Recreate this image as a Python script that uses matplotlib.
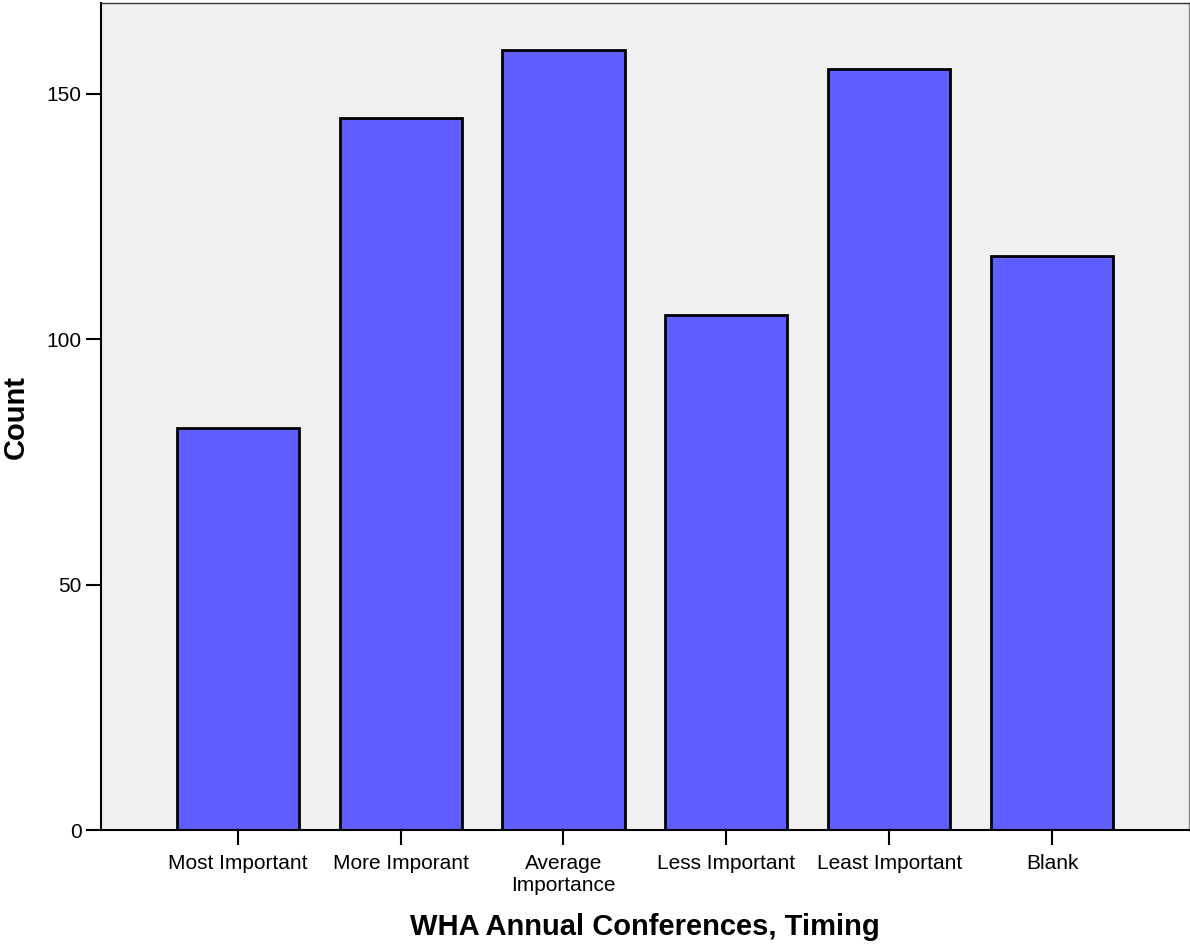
import matplotlib
matplotlib.use('Agg')
import matplotlib.pyplot as plt

plt.rcParams['font.family'] = ['Liberation Sans', 'DejaVu Sans']

categories = ['Most Important', 'More Imporant', 'Average\nImportance',
              'Less Important', 'Least Important', 'Blank']
counts = [82, 145, 159, 105, 155, 117]

figure = plt.figure(figsize=(11.9, 9.47), dpi=100)
ax = figure.add_axes([0.0849, 0.1235, 0.9141, 0.8733])
ax.set_facecolor('#f0f0f0')

positions = list(range(len(categories)))
ax.bar(positions, counts, width=0.75, color='#5f5fff', edgecolor='black', linewidth=2, zorder=2)

ax.set_xlim(-0.84, 5.84)
ax.set_ylim(0, 168.5)
ax.set_xticks(positions)
ax.set_xticklabels(categories, fontsize=15, linespacing=1.25)
ax.set_yticks([0, 50, 100, 150])
ax.tick_params(axis='both', length=11, width=1.5, color='black', labelsize=15)
ax.tick_params(axis='x', pad=6)
ax.tick_params(axis='y', pad=3)

ax.spines['left'].set_linewidth(1.5)
ax.spines['bottom'].set_linewidth(1.5)
ax.spines['top'].set_linewidth(1)
ax.spines['top'].set_color('#333333')
ax.spines['right'].set_linewidth(1)
ax.spines['right'].set_color('#888888')

ax.set_xlabel('WHA Annual Conferences, Timing', fontsize=21, fontweight='bold', labelpad=13)
ax.set_ylabel('Count', fontsize=21, fontweight='bold', labelpad=12)

figure.savefig('out.png', dpi=100)
